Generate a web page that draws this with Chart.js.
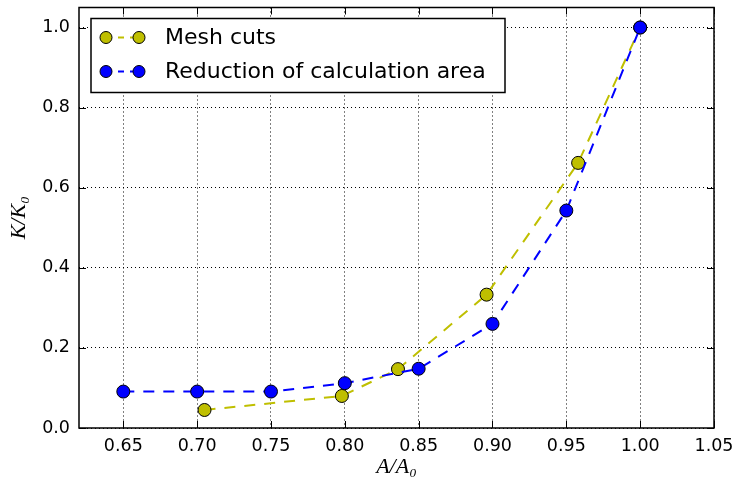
<!DOCTYPE html>
<html>
<head>
<meta charset="utf-8">
<script src="https://cdn.jsdelivr.net/npm/chart.js@4/dist/chart.umd.min.js"></script>
<style>
  html, body { margin: 0; padding: 0; background: #fff; }
  #wrap { width: 734px; height: 483px; }
</style>
</head>
<body>
<div id="wrap"><canvas id="chart" width="734" height="483"></canvas></div>
<script>
// values
const meshX = [0.705, 0.798, 0.836, 0.896, 0.958, 1.0];
const meshY = [0.045, 0.080, 0.147, 0.333, 0.662, 1.0];
const reducX = [0.65, 0.70, 0.75, 0.80, 0.85, 0.90, 0.95, 1.0];
const reducY = [0.091, 0.091, 0.091, 0.112, 0.148, 0.260, 0.543, 1.0];
const seriesNames = ['Mesh cuts', 'Reduction of calculation area'];
const xTicks = [0.65, 0.70, 0.75, 0.80, 0.85, 0.90, 0.95, 1.00, 1.05];
const yTicks = [0.0, 0.2, 0.4, 0.6, 0.8, 1.0];

const toPoints = (xs, ys) => xs.map((x, i) => ({x: x, y: ys[i]}));

// frame + inward ticks on all four sides, like matplotlib classic
const framePlugin = {
  id: 'frame',
  afterDatasetsDraw(chart) {
    const {ctx, chartArea: a, scales} = chart;
    ctx.save();
    ctx.strokeStyle = '#000';
    ctx.lineWidth = 1;
    const len = 7;
    xTicks.forEach(v => {
      const px = Math.round(scales.x.getPixelForValue(v)) + 0.5;
      ctx.beginPath();
      ctx.moveTo(px, a.bottom); ctx.lineTo(px, a.bottom - len);
      ctx.moveTo(px, a.top); ctx.lineTo(px, a.top + len);
      ctx.stroke();
    });
    yTicks.forEach(v => {
      const py = Math.round(scales.y.getPixelForValue(v)) + 0.5;
      ctx.beginPath();
      ctx.moveTo(a.left, py); ctx.lineTo(a.left + len, py);
      ctx.moveTo(a.right, py); ctx.lineTo(a.right - len, py);
      ctx.stroke();
    });
    ctx.lineWidth = 1.5;
    ctx.strokeRect(a.left, a.top, a.right - a.left, a.bottom - a.top);
    ctx.restore();
  }
};

// legend box with two markers joined by a dashed line (matplotlib style)
const legendPlugin = {
  id: 'mplLegend',
  afterDraw(chart) {
    const {ctx, chartArea: a} = chart;
    const bx = a.left + 12, by = a.top + 11, bw = 414, bh = 74;
    ctx.save();
    ctx.fillStyle = '#fff';
    ctx.fillRect(bx, by, bw, bh);
    ctx.strokeStyle = '#000';
    ctx.lineWidth = 1.5;
    ctx.strokeRect(bx, by, bw, bh);
    ctx.font = '22px "DejaVu Sans"';
    ctx.textBaseline = 'middle';
    chart.data.datasets.forEach((ds, i) => {
      const cy = by + 19 + i * 34;
      const x1 = bx + 15, x2 = bx + 48;
      ctx.strokeStyle = ds.borderColor;
      ctx.lineWidth = 2;
      ctx.setLineDash([6, 6]);
      ctx.beginPath(); ctx.moveTo(x1, cy); ctx.lineTo(x2, cy); ctx.stroke();
      ctx.setLineDash([]);
      [x1, x2].forEach(px => {
        ctx.beginPath();
        ctx.arc(px, cy, 6, 0, Math.PI * 2);
        ctx.fillStyle = ds.pointBackgroundColor;
        ctx.fill();
        ctx.lineWidth = 1;
        ctx.strokeStyle = '#000';
        ctx.stroke();
      });
      ctx.fillStyle = '#000';
      ctx.fillText(ds.label, bx + 74, cy + 1);
    });
    ctx.restore();
  }
};

const series = (label, pts, color, order) => ({
  label: label,
  data: pts,
  order: order,
  showLine: true,
  borderColor: color,
  borderWidth: 2,
  borderDash: [11, 9],
  pointRadius: 6.5,
  pointHoverRadius: 6.5,
  pointBackgroundColor: color,
  pointBorderColor: '#000',
  pointBorderWidth: 1,
  clip: false
});

const tickFont = {family: '"DejaVu Sans"', size: 17.5};
const titleFont = {family: '"Liberation Serif"', style: 'italic', size: 22};

new Chart(document.getElementById('chart'), {
  type: 'scatter',
  data: {
    datasets: [
      series(seriesNames[0], toPoints(meshX, meshY), '#bfbf00', 1),
      series(seriesNames[1], toPoints(reducX, reducY), '#0000ff', 0)
    ]
  },
  options: {
    responsive: false,
    animation: false,
    layout: {padding: {top: 6, right: 20, left: 0, bottom: 0}},
    plugins: {legend: {display: false}, tooltip: {enabled: false}},
    scales: {
      x: {
        type: 'linear', min: 0.62, max: 1.05,
        afterBuildTicks: s => { s.ticks = xTicks.map(v => ({value: v})); },
        afterFit: s => { s.height = 55; s.paddingLeft = 0; s.paddingRight = 0; },
        ticks: {font: tickFont, color: '#000', padding: 8, maxRotation: 0,
                callback: v => v.toFixed(2)},
        grid: {color: '#000', lineWidth: 1, drawTicks: false},
        border: {display: false, dash: [1, 3]},
        title: {display: true, text: 'A/A₀', font: titleFont, color: '#000',
                padding: {top: 0, bottom: 3}}
      },
      y: {
        type: 'linear', min: 0, max: 1.05,
        afterBuildTicks: s => { s.ticks = yTicks.map(v => ({value: v})); },
        afterFit: s => { s.width = 79; s.paddingTop = 0; s.paddingBottom = 0; },
        ticks: {font: tickFont, color: '#000', padding: 9,
                callback: v => v.toFixed(1)},
        grid: {color: '#000', lineWidth: 1, drawTicks: false},
        border: {display: false, dash: [1, 3]},
        title: {display: true, text: 'K/K₀', font: titleFont, color: '#000',
                padding: {top: 6, bottom: 0}}
      }
    }
  },
  plugins: [framePlugin, legendPlugin]
});
</script>
</body>
</html>
